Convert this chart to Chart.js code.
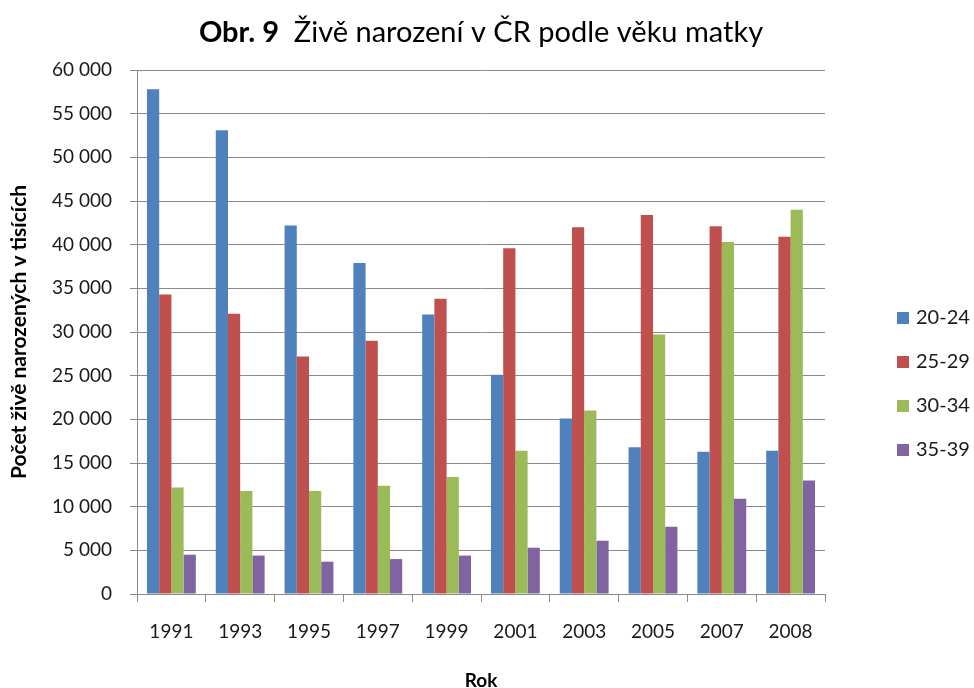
<!DOCTYPE html>
<html>
<head>
<meta charset="utf-8">
<script src="https://cdn.jsdelivr.net/npm/chart.js@4"></script>
<style>
  html, body { margin: 0; padding: 0; background: #fff; }
  #wrap { width: 974px; height: 688px; }
</style>
</head>
<body>
<div id="wrap"><canvas id="graf" width="974" height="688"></canvas></div>
<script>
// Data
const roky = ['1991', '1993', '1995', '1997', '1999', '2001', '2003', '2005', '2007', '2008']
const vek20_24 = [57800, 53100, 42200, 37900, 32000, 25100, 20100, 16800, 16300, 16400]
const vek25_29 = [34300, 32100, 27200, 29000, 33800, 39600, 42000, 43400, 42100, 40900]
const vek30_34 = [12200, 11800, 11800, 12400, 13400, 16400, 21000, 29700, 40300, 44000]
const vek35_39 = [4500, 4400, 3700, 4000, 4400, 5300, 6100, 7700, 10900, 13000]
const nazvySerii = ['20-24', '25-29', '30-34', '35-39']
const barvy = ['#4F81BD', '#C0504D', '#9BBB59', '#8064A2']

const pismo = 'Lato, "Open Sans", sans-serif'
const seda = '#8a8a8a'

Chart.defaults.font.family = pismo
Chart.defaults.color = '#1a1a1a'

// titulek s tučnou částí
const titulek = {
    id: 'titulek',
    afterDraw(chart) {
        const c = chart.ctx
        const a = 'Obr. 9'
        const b = '  Živě narození v ČR podle věku matky'
        c.save()
        c.textBaseline = 'alphabetic'
        c.fillStyle = '#000'
        c.font = 'bold 29px ' + pismo
        const wa = c.measureText(a).width
        c.font = '29px ' + pismo
        const wb = c.measureText(b).width
        const x0 = 481 - (wa + wb) / 2
        c.font = 'bold 29px ' + pismo
        c.fillText(a, x0, 42)
        c.font = '29px ' + pismo
        c.fillText(b, x0 + wa, 42)
        c.restore()
    }
}

// legenda vpravo
const legenda = {
    id: 'legenda',
    afterDraw(chart) {
        const c = chart.ctx
        c.save()
        c.font = '20px ' + pismo
        c.textBaseline = 'middle'
        chart.data.datasets.forEach((ds, i) => {
            const y = 318 + i * 44
            c.fillStyle = ds.backgroundColor
            c.fillRect(897, y - 6, 12, 12)
            c.fillStyle = '#1a1a1a'
            c.fillText(ds.label, 916, y)
        })
        c.restore()
    }
}

const ctx = document.getElementById('graf').getContext('2d')

const data = {
    labels: roky,
    datasets: [vek20_24, vek25_29, vek30_34, vek35_39].map((d, i) => ({
        label: nazvySerii[i],
        data: d,
        backgroundColor: barvy[i],
        borderWidth: 0,
        categoryPercentage: 0.71,
        barPercentage: 1.0
    }))
}

const config = {
    type: 'bar',
    data: data,
    options: {
        responsive: false,
        animation: false,
        layout: { padding: { left: 0, right: 149, top: 70, bottom: 0 } },
        plugins: {
            legend: { display: false },
            title: { display: false },
            tooltip: { enabled: false }
        },
        scales: {
            x: {
                afterFit(s) { s.height = 94 },
                grid: {
                    offset: true,
                    drawOnChartArea: false,
                    tickLength: 8,
                    color: seda
                },
                border: { color: seda },
                ticks: { font: { size: 19 }, color: '#1a1a1a', padding: 18, maxRotation: 0 },
                title: {
                    display: true,
                    text: 'Rok',
                    font: { size: 19, weight: 'bold' },
                    color: '#000',
                    padding: { top: 0, bottom: -4 }
                }
            },
            y: {
                afterFit(s) { s.width = 137 },
                min: 0,
                max: 60000,
                ticks: {
                    stepSize: 5000,
                    font: { size: 19 },
                    color: '#1a1a1a',
                    padding: 18,
                    callback: v => String(v).replace(/\B(?=(\d{3})+(?!\d))/g, ' ')
                },
                grid: { color: seda, tickLength: 7 },
                border: { color: seda },
                title: {
                    display: true,
                    text: 'Počet živě narozených v tisících',
                    font: { size: 21, weight: 'bold' },
                    color: '#000',
                    padding: { top: 7, bottom: 0 }
                }
            }
        }
    },
    plugins: [titulek, legenda]
}

const grafic = new Chart(ctx, config)
</script>
</body>
</html>
